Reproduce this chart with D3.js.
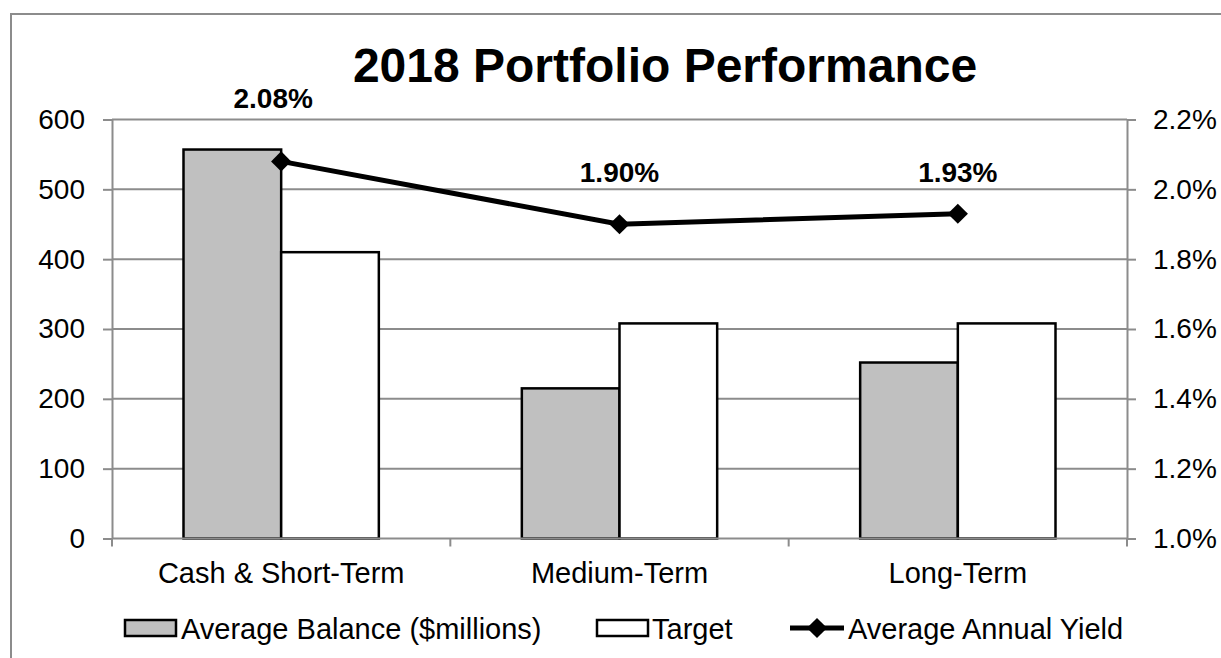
<!DOCTYPE html>
<html lang="en">
<head>
    <meta charset="UTF-8"/>
    <title>2018 Portfolio Performance</title>
    <script src="https://d3js.org/d3.v7.min.js"></script>
    <style>
        body { margin: 0; background: #fff; }
        svg { font-family: "Liberation Sans", Arial, sans-serif; }
        .axis path, .axis line { stroke: #8c8c8c; stroke-width: 2; }
        .axis text { font-size: 28px; fill: #000; }
    </style>
</head>
<body>
    <script>
        // data
        var categories = ["Cash & Short-Term", "Medium-Term", "Long-Term"];
        var seriesNames = ["Average Balance ($millions)", "Target", "Average Annual Yield"];
        var balance = [557, 215, 252];
        var target = [410, 308, 308];
        var yieldPct = [2.08, 1.90, 1.93];
        var leftTicks = [0, 100, 200, 300, 400, 500, 600];
        var rightTicks = [1.0, 1.2, 1.4, 1.6, 1.8, 2.0, 2.2];

        // label nudges (layout only)
        var labelDx = [-8, 0, 0];
        var labelDy = [53, 42, 32];

        var w = 1221;
        var h = 658;
        var plotL = 112, plotR = 1127, plotT = 119.5, plotB = 538.5;

        var svg = d3.select("body")
            .append("svg")
            .attr("width", w)
            .attr("height", h);

        // chart border
        svg.append("rect")
            .attr("x", 11)
            .attr("y", 14)
            .attr("width", 1240)
            .attr("height", 700)
            .attr("fill", "none")
            .attr("stroke", "#8c8c8c")
            .attr("stroke-width", 2);

        svg.append("text")
            .attr("x", 665)
            .attr("y", 82)
            .attr("text-anchor", "middle")
            .attr("font-size", "48px")
            .attr("font-weight", "bold")
            .text("2018 Portfolio Performance");

        var x0 = d3.scaleBand()
            .domain(categories)
            .range([plotL, plotR]);

        var bw = x0.bandwidth();
        var x1 = d3.scaleBand()
            .domain(["balance", "target"])
            .range([71.5, bw - 71.5]);

        var yL = d3.scaleLinear()
            .domain([0, 600])
            .range([plotB, plotT]);

        var yR = d3.scaleLinear()
            .domain([1.0, 2.2])
            .range([plotB, plotT]);

        // gridlines
        svg.append("g")
            .selectAll("line")
            .data(leftTicks.slice(1))
            .enter()
            .append("line")
            .attr("x1", plotL)
            .attr("x2", plotR)
            .attr("y1", function(d) { return yL(d); })
            .attr("y2", function(d) { return yL(d); })
            .attr("stroke", "#8c8c8c")
            .attr("stroke-width", 2);

        var yAxisL = d3.axisLeft(yL)
            .tickValues(leftTicks)
            .tickSize(9)
            .tickPadding(18)
            .tickSizeOuter(0);

        svg.append("g")
            .attr("class", "axis")
            .attr("transform", "translate(" + plotL + ",0)")
            .call(yAxisL);

        var yAxisR = d3.axisRight(yR)
            .tickValues(rightTicks)
            .tickFormat(function(d) { return d.toFixed(1) + "%"; })
            .tickSize(9)
            .tickPadding(17)
            .tickSizeOuter(0);

        svg.append("g")
            .attr("class", "axis")
            .attr("transform", "translate(" + plotR + ",0)")
            .call(yAxisR);

        // bars
        var groups = svg.append("g")
            .selectAll("g")
            .data(categories)
            .enter()
            .append("g")
            .attr("transform", function(d) { return "translate(" + x0(d) + ",0)"; });

        groups.append("rect")
            .attr("x", x1("balance"))
            .attr("y", function(d, i) { return yL(balance[i]); })
            .attr("width", x1.bandwidth())
            .attr("height", function(d, i) { return plotB - yL(balance[i]); })
            .attr("fill", "#c0c0c0")
            .attr("stroke", "#000")
            .attr("stroke-width", 2.5);

        groups.append("rect")
            .attr("x", x1("target"))
            .attr("y", function(d, i) { return yL(target[i]); })
            .attr("width", x1.bandwidth())
            .attr("height", function(d, i) { return plotB - yL(target[i]); })
            .attr("fill", "#fff")
            .attr("stroke", "#000")
            .attr("stroke-width", 2.5);

        // x axis drawn over the bar bottoms
        var boundaries = categories.map(function(d) { return x0(d); }).concat([plotR]);
        var xg = svg.append("g");
        xg.append("line")
            .attr("x1", plotL)
            .attr("x2", plotR)
            .attr("y1", plotB)
            .attr("y2", plotB)
            .attr("stroke", "#8c8c8c")
            .attr("stroke-width", 2);
        xg.selectAll("line.tick")
            .data(boundaries)
            .enter()
            .append("line")
            .attr("class", "tick")
            .attr("x1", function(d) { return d; })
            .attr("x2", function(d) { return d; })
            .attr("y1", plotB)
            .attr("y2", plotB + 8)
            .attr("stroke", "#8c8c8c")
            .attr("stroke-width", 2);
        xg.selectAll("text")
            .data(categories)
            .enter()
            .append("text")
            .attr("x", function(d) { return x0(d) + bw / 2; })
            .attr("y", 583)
            .attr("text-anchor", "middle")
            .attr("font-size", "29px")
            .text(function(d) { return d; });

        // yield line
        var line = d3.line()
            .x(function(d, i) { return x0(categories[i]) + bw / 2; })
            .y(function(d) { return yR(d); });

        svg.append("path")
            .datum(yieldPct)
            .attr("d", line)
            .attr("fill", "none")
            .attr("stroke", "#000")
            .attr("stroke-width", 5);

        var diamond = d3.symbol().type(d3.symbolDiamond2).size(260);

        svg.selectAll("path.marker")
            .data(yieldPct)
            .enter()
            .append("path")
            .attr("class", "marker")
            .attr("d", diamond)
            .attr("transform", function(d, i) {
                return "translate(" + (x0(categories[i]) + bw / 2) + "," + yR(d) + ")";
            })
            .attr("fill", "#000");

        svg.selectAll("text.dlabel")
            .data(yieldPct)
            .enter()
            .append("text")
            .attr("class", "dlabel")
            .attr("x", function(d, i) { return x0(categories[i]) + bw / 2 + labelDx[i]; })
            .attr("y", function(d, i) { return yR(d) - labelDy[i]; })
            .attr("text-anchor", "middle")
            .attr("font-size", "28px")
            .attr("font-weight", "bold")
            .text(function(d) { return d.toFixed(2) + "%"; });

        // legend
        var leg = svg.append("g").attr("font-size", "29px");
        leg.append("rect")
            .attr("x", 125).attr("y", 620)
            .attr("width", 51).attr("height", 16)
            .attr("fill", "#c0c0c0").attr("stroke", "#000").attr("stroke-width", 2.5);
        leg.append("text").attr("x", 181).attr("y", 639).text(seriesNames[0]);

        leg.append("rect")
            .attr("x", 597).attr("y", 620)
            .attr("width", 51).attr("height", 16)
            .attr("fill", "#fff").attr("stroke", "#000").attr("stroke-width", 2.5);
        leg.append("text").attr("x", 652).attr("y", 639).text(seriesNames[1]);

        leg.append("line")
            .attr("x1", 790).attr("x2", 844)
            .attr("y1", 628).attr("y2", 628)
            .attr("stroke", "#000").attr("stroke-width", 5);
        leg.append("path")
            .attr("d", diamond)
            .attr("transform", "translate(817,628)")
            .attr("fill", "#000");
        leg.append("text").attr("x", 848).attr("y", 639).text(seriesNames[2]);
    </script>
</body>
</html>
